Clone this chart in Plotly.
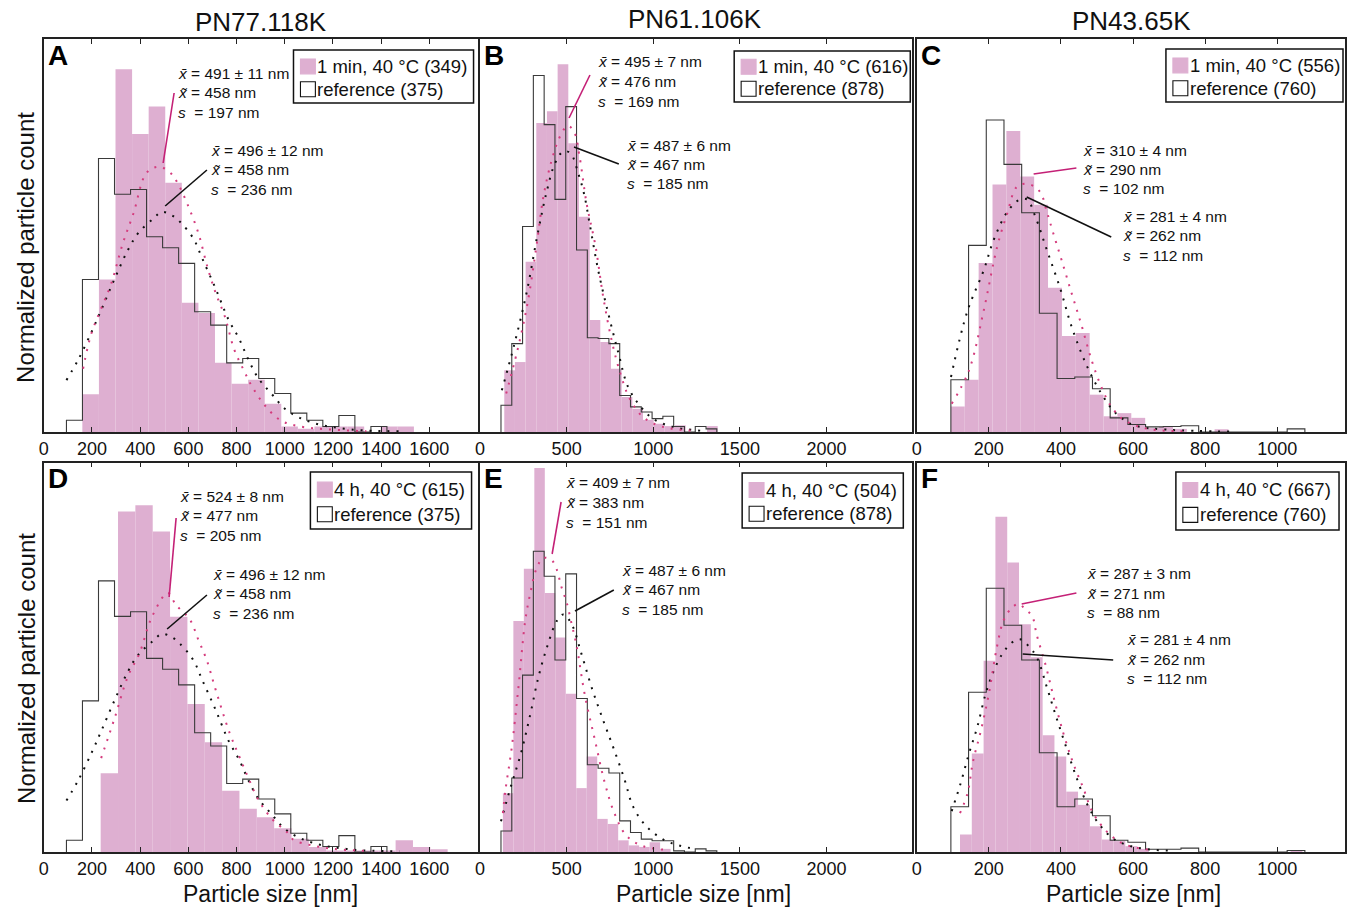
import plotly.graph_objects as go

# ---------------- data (normalized particle count, fraction of panel height) ----------------
col_titles = ["PN77.118K", "PN61.106K", "PN43.65K"]
panel_letters = ["A", "B", "C", "D", "E", "F"]

# Panel A  (PN77.118K, 1 min)
A_pink_start, A_pink_width = 160, 68.8
A_pink = [0.096, 0.388, 0.923, 0.758, 0.828, 0.634, 0.329, 0.303, 0.176, 0.123,
          0.133, 0.072, 0.014, 0.008, 0.014, 0.014, 0.014, 0.0, 0.014, 0.014]
A_ref_start, A_ref_width = 94, 66.5
A_ref = [0.030, 0.388, 0.696, 0.605, 0.617, 0.497, 0.469, 0.429, 0.306, 0.272,
         0.176, 0.187, 0.136, 0.098, 0.048, 0.030, 0.014, 0.042, 0.0, 0.014]
A_fit_x = [163, 197, 238, 280, 328, 372, 427, 479, 528, 555, 594, 642, 679, 713, 752, 789, 830, 865, 917, 982, 1064, 1339]
A_fit_y = [0.161, 0.250, 0.314, 0.378, 0.480, 0.556, 0.660, 0.675, 0.658, 0.634, 0.583, 0.505, 0.420, 0.354,
           0.293, 0.212, 0.157, 0.115, 0.068, 0.030, 0.014, 0.002]
A_ref_fit_x = [94, 142, 200, 238, 294, 349, 393, 455, 490, 530, 565, 621, 658, 713, 768, 810, 847, 889, 944, 1009, 1119, 1284, 1477]
A_ref_fit_y = [0.132, 0.183, 0.257, 0.310, 0.390, 0.463, 0.507, 0.543, 0.560, 0.552, 0.535, 0.492, 0.441, 0.365,
               0.284, 0.238, 0.187, 0.138, 0.098, 0.055, 0.023, 0.006, 0.002]

# Panel B  (PN61.106K, 1 min)
B_pink_start, B_pink_width = 140, 61.6
B_pink = [0.157, 0.178, 0.433, 0.786, 0.816, 0.936, 0.735, 0.548, 0.285, 0.229,
          0.161, 0.089, 0.059, 0.031, 0.021, 0.015, 0.017, 0.0, 0.0, 0.015]
B_ref_start, B_ref_width = 121, 62.3
B_ref = [0.068, 0.225, 0.523, 0.907, 0.782, 0.592, 0.828, 0.463, 0.240, 0.238,
         0.225, 0.093, 0.064, 0.051, 0.034, 0.040, 0.014, 0.0, 0.014, 0.008]
B_fit_x = [151, 216, 274, 328, 366, 414, 462, 506, 542, 573, 615, 667, 711, 762, 810, 864, 941, 1056, 1247]
B_fit_y = [0.098, 0.208, 0.327, 0.480, 0.599, 0.692, 0.752, 0.779, 0.765, 0.705, 0.582, 0.472, 0.344,
           0.229, 0.149, 0.085, 0.038, 0.013, 0.003]
B_ref_fit_x = [126, 198, 270, 334, 385, 433, 481, 523, 567, 600, 634, 682, 740, 797, 854, 921, 998, 1113, 1285]
B_ref_fit_y = [0.106, 0.223, 0.357, 0.507, 0.612, 0.684, 0.714, 0.709, 0.658, 0.607, 0.527, 0.412, 0.302,
               0.204, 0.115, 0.068, 0.034, 0.013, 0.003]

# Panel C  (PN43.65K, 1 min)
C_pink_start, C_pink_width = 94.7, 38.5
C_pink = [0.065, 0.133, 0.430, 0.630, 0.766, 0.650, 0.578, 0.367, 0.244, 0.252,
          0.095, 0.040, 0.048, 0.036, 0.010, 0.013, 0.008, 0.0, 0.0, 0.007]
C_ref_start, C_ref_width = 94.7, 49.1
C_ref = [0.133, 0.475, 0.794, 0.681, 0.558, 0.302, 0.136, 0.140, 0.110, 0.036,
         0.019, 0.013, 0.014, 0.016, 0.0, 0.0, 0.0, 0.0, 0.0, 0.008]
C_fit_x = [97, 145, 186, 223, 251, 278, 310, 342, 361, 379, 402, 430, 457, 485, 512, 540, 576, 641, 751]
C_fit_y = [0.072, 0.157, 0.310, 0.471, 0.556, 0.624, 0.631, 0.611, 0.560, 0.505, 0.437, 0.352, 0.272,
           0.183, 0.115, 0.064, 0.030, 0.008, 0.002]
C_ref_fit_x = [95, 140, 186, 214, 251, 283, 306, 329, 361, 398, 430, 471, 512, 553, 604, 696, 879]
C_ref_fit_y = [0.140, 0.306, 0.412, 0.490, 0.560, 0.590, 0.592, 0.548, 0.463, 0.365, 0.267, 0.170,
               0.098, 0.047, 0.017, 0.006, 0.001]

# Panel D  (PN77.118K, 4 h) -- reference identical to panel A
D_pink_start, D_pink_width = 236, 72
D_pink = [0.202, 0.874, 0.890, 0.823, 0.604, 0.380, 0.282, 0.157, 0.111, 0.089,
          0.061, 0.034, 0.013, 0.004, 0.003, 0.003, 0.004, 0.030, 0.013, 0.007]
D_fit_x = [238, 293, 349, 397, 449, 514, 548, 606, 642, 676, 713, 771, 810, 851, 892, 947, 1009, 1037, 1105, 1202, 1339]
D_fit_y = [0.241, 0.342, 0.451, 0.510, 0.604, 0.665, 0.635, 0.597, 0.544, 0.493, 0.417, 0.306, 0.247,
           0.187, 0.132, 0.085, 0.051, 0.031, 0.018, 0.008, 0.003]

# Panel E  (PN61.106K, 4 h)
E_pink_start, E_pink_width = 132, 60.5
E_pink = [0.151, 0.593, 0.727, 0.986, 0.665, 0.551, 0.406, 0.164, 0.245, 0.085,
          0.072, 0.030, 0.017, 0.013, 0.025, 0.008]
E_ref_start, E_ref_width = 121, 62.3
E_ref = [0.054, 0.190, 0.454, 0.772, 0.708, 0.493, 0.714, 0.394, 0.224, 0.215,
         0.203, 0.080, 0.050, 0.033, 0.029, 0.029, 0.003, 0.0, 0.008, 0.003]
E_fit_x = [132, 146, 184, 222, 261, 289, 328, 366, 414, 442, 471, 500, 529, 557, 605, 663, 720, 778, 845, 941, 1094]
E_fit_y = [0.100, 0.156, 0.271, 0.424, 0.594, 0.662, 0.730, 0.755, 0.749, 0.726, 0.679, 0.641, 0.585,
           0.530, 0.403, 0.288, 0.178, 0.097, 0.042, 0.015, 0.005]
E_ref_fit_x = [121, 175, 236, 289, 337, 389, 443, 481, 529, 586, 644, 711, 768, 835, 883, 960, 1075, 1247]
E_ref_fit_y = [0.079, 0.164, 0.253, 0.351, 0.449, 0.529, 0.593, 0.610, 0.585, 0.508, 0.423, 0.338,
               0.270, 0.185, 0.117, 0.066, 0.028, 0.007]

# Panel F  (PN43.65K, 4 h)
F_pink_start, F_pink_width = 120, 32.75
F_pink = [0.045, 0.253, 0.491, 0.861, 0.743, 0.585, 0.500, 0.300, 0.245, 0.155,
          0.121, 0.066, 0.032, 0.028, 0.015, 0.008, 0, 0, 0, 0, 0, 0, 0, 0, 0, 0, 0, 0, 0.005]
F_ref_start, F_ref_width = 94.7, 49.1
F_ref = [0.116, 0.410, 0.677, 0.582, 0.493, 0.255, 0.116, 0.136, 0.093, 0.030,
         0.025, 0.007, 0.007, 0.010, 0.0, 0.0, 0.0, 0.0, 0.0, 0.004]
F_fit_x = [120, 141, 156, 177, 200, 223, 241, 264, 283, 301, 320, 333, 358, 382, 407, 434, 462, 489, 531, 576, 650]
F_fit_y = [0.100, 0.151, 0.232, 0.308, 0.406, 0.529, 0.595, 0.627, 0.637, 0.623, 0.606, 0.557, 0.478,
           0.389, 0.304, 0.228, 0.164, 0.100, 0.049, 0.020, 0.005]
F_ref_fit_x = [97, 122, 145, 168, 191, 214, 237, 264, 287, 310, 333, 361, 384, 411, 439, 471, 503, 549, 613, 714]
F_ref_fit_y = [0.105, 0.177, 0.253, 0.321, 0.406, 0.466, 0.508, 0.538, 0.546, 0.529, 0.500, 0.423,
               0.355, 0.279, 0.202, 0.126, 0.075, 0.032, 0.011, 0.003]

# legend labels
legend_sample = ["1 min, 40 °C (349)", "1 min, 40 °C (616)", "1 min, 40 °C (556)",
                 "4 h, 40 °C (615)", "4 h, 40 °C (504)", "4 h, 40 °C (667)"]
legend_ref = ["reference (375)", "reference (878)", "reference (760)",
              "reference (375)", "reference (878)", "reference (760)"]

# statistics text blocks (sample, reference)
stats_sample = [("491 ± 11", "458", "197"), ("495 ± 7", "476", "169"), ("310 ± 4", "290", "102"),
                ("524 ± 8", "477", "205"), ("409 ± 7", "383", "151"), ("287 ± 3", "271", "88")]
stats_ref = [("496 ± 12", "458", "236"), ("487 ± 6", "467", "185"), ("281 ± 4", "262", "112"),
             ("496 ± 12", "458", "236"), ("487 ± 6", "467", "185"), ("281 ± 4", "262", "112")]

x_ticks = [[0, 200, 400, 600, 800, 1000, 1200, 1400, 1600],
           [0, 500, 1000, 1500, 2000],
           [0, 200, 400, 600, 800, 1000]]
x_ranges = [[0, 1800], [0, 2495], [0, 1188]]

# ---------------- style / layout constants ----------------
W, H = 1347, 909
PINK = "rgb(222,175,209)"
PINK_DOT = "rgb(212,60,125)"
PINK_LINE = "rgb(196,32,118)"
FONT = "Liberation Sans, Arial, sans-serif"

col_px = [(39, 475), (477.5, 912), (916.5, 1347)]
row_px = [(39, 432), (462.5, 852)]


def P(x, y):
    return x / W, 1 - y / H


panels = [
    dict(pink=(A_pink_start, A_pink_width, A_pink), ref=(A_ref_start, A_ref_width, A_ref),
         fit=(A_fit_x, A_fit_y), rfit=(A_ref_fit_x, A_ref_fit_y)),
    dict(pink=(B_pink_start, B_pink_width, B_pink), ref=(B_ref_start, B_ref_width, B_ref),
         fit=(B_fit_x, B_fit_y), rfit=(B_ref_fit_x, B_ref_fit_y)),
    dict(pink=(C_pink_start, C_pink_width, C_pink), ref=(C_ref_start, C_ref_width, C_ref),
         fit=(C_fit_x, C_fit_y), rfit=(C_ref_fit_x, C_ref_fit_y)),
    dict(pink=(D_pink_start, D_pink_width, D_pink), ref=(A_ref_start, A_ref_width, A_ref),
         fit=(D_fit_x, D_fit_y), rfit=(A_ref_fit_x, A_ref_fit_y)),
    dict(pink=(E_pink_start, E_pink_width, E_pink), ref=(E_ref_start, E_ref_width, E_ref),
         fit=(E_fit_x, E_fit_y), rfit=(E_ref_fit_x, E_ref_fit_y)),
    dict(pink=(F_pink_start, F_pink_width, F_pink), ref=(F_ref_start, F_ref_width, F_ref),
         fit=(F_fit_x, F_fit_y), rfit=(F_ref_fit_x, F_ref_fit_y)),
]

# annotation geometry in page pixels: (block1 left, rows), pink line, (block2 left, rows), black line
ann_geom = [
    ((173, [73, 92.5, 112]), ((170, 93), (159, 163)), (206, [151, 170, 190]), ((203, 170), (161, 206))),
    ((595, [62, 81.5, 101]), ((588, 75), (567, 118)), (624, [146, 165, 184]), ((617, 164), (572, 147))),
    ((1083, [150, 169.5, 189]), ((1034, 174), (1077, 168)), (1123, [217, 236, 256]), ((1027, 197), (1112, 237))),
    ((175, [496, 515.5, 535]), ((172, 518), (165, 597)), (208, [574, 593.5, 613]), ((203, 595), (163, 629))),
    ((563, [482, 502, 522]), ((559, 502), (550, 554)), (619, [570, 589.5, 609]), ((612, 590), (573, 611))),
    ((1087, [573, 593, 612.5]), ((1022, 604), (1077, 593)), (1127, [639, 659, 678.5]), ((1023, 654), (1114, 660))),
]
legend_box = [(290, 50, 471, 103), (733, 51, 910, 102), (1167, 49, 1345, 102),
              (307, 472, 469, 529), (741, 473, 903, 528), (1177, 472, 1341, 530)]

fig = go.Figure()
shapes, annotations = [], []

for i, pdat in enumerate(panels):
    r, c = divmod(i, 3)
    xa = "x" if i == 0 else f"x{i+1}"
    ya = "y" if i == 0 else f"y{i+1}"
    s0, w0, hp = pdat["pink"]
    centers = [s0 + w0 * (k + 0.5) for k in range(len(hp))]
    fig.add_trace(go.Bar(x=centers, y=hp, width=w0, marker=dict(color=PINK, line=dict(width=0)),
                         name=legend_sample[i], xaxis=xa, yaxis=ya, showlegend=False))
    s1, w1, hr = pdat["ref"]
    xs = [s1] + [s1 + w1 * k for k in range(len(hr))] + [s1 + w1 * len(hr)]
    ys = [0] + list(hr) + [0]
    fig.add_trace(go.Scatter(x=xs, y=ys, mode="lines", line=dict(color="#3a3a3a", width=1.1, shape="hv"),
                             name=legend_ref[i], xaxis=xa, yaxis=ya, showlegend=False))
    fx, fy = pdat["rfit"]
    fig.add_trace(go.Scatter(x=fx, y=fy, mode="lines",
                             line=dict(color="#111", width=2, dash="2px,7px", shape="spline"),
                             xaxis=xa, yaxis=ya, showlegend=False))
    fx, fy = pdat["fit"]
    fig.add_trace(go.Scatter(x=fx, y=fy, mode="lines",
                             line=dict(color=PINK_DOT, width=2, dash="2px,7px", shape="spline"),
                             xaxis=xa, yaxis=ya, showlegend=False))

    x0p, x1p = col_px[c]
    y0p, y1p = row_px[r]
    axis_x = dict(domain=[x0p / W, x1p / W], anchor=ya, range=x_ranges[c], tickvals=x_ticks[c],
                  ticks="inside", ticklen=5, tickcolor="#222", showline=True, linecolor="#222",
                  linewidth=1.5, mirror="ticks", showgrid=False, zeroline=False,
                  tickfont=dict(family=FONT, size=18, color="#111"))
    axis_y = dict(domain=[1 - y1p / H, 1 - y0p / H], anchor=xa, range=[0, 1], showticklabels=False,
                  ticks="", showline=True, linecolor="#222", linewidth=1.5, mirror=True,
                  showgrid=False, zeroline=False)
    fig.layout["xaxis" if i == 0 else f"xaxis{i+1}"] = axis_x
    fig.layout["yaxis" if i == 0 else f"yaxis{i+1}"] = axis_y

    # panel letter
    lx, ly = P(x0p + 2, y0p + 16)
    annotations.append(dict(x=lx, y=ly, xref="paper", yref="paper", text=f"<b>{panel_letters[i]}</b>",
                            showarrow=False, xanchor="left", yanchor="middle",
                            font=dict(family=FONT, size=28, color="#000")))

    # statistics blocks
    (b1x, b1rows), pl, (b2x, b2rows), bl = ann_geom[i]
    for (bx, rows, st) in ((b1x, b1rows, stats_sample[i]), (b2x, b2rows, stats_ref[i])):
        texts = [f"<i>x̄</i> = {st[0]} nm", f"<i>x̃</i> = {st[1]} nm", f"<i>s</i>  = {st[2]} nm"]
        for t, ry in zip(texts, rows):
            ax_, ay_ = P(bx - 1, ry)
            annotations.append(dict(x=ax_, y=ay_, xref="paper", yref="paper", text=t, showarrow=False,
                                    xanchor="left", yanchor="middle",
                                    font=dict(family=FONT, size=15.5, color="#111")))
    for (pa, pb), colr in ((pl, PINK_LINE), (bl, "#111")):
        xa0, ya0 = P(*pa)
        xb0, yb0 = P(*pb)
        shapes.append(dict(type="line", xref="paper", yref="paper", x0=xa0, y0=ya0, x1=xb0, y1=yb0,
                           line=dict(color=colr, width=1.6)))

    # manual legend
    L, T, R, B = legend_box[i]
    bx0, by0 = P(L, B)
    bx1, by1 = P(R, T)
    shapes.append(dict(type="rect", xref="paper", yref="paper", x0=bx0, y0=by0, x1=bx1, y1=by1,
                       fillcolor="white", line=dict(color="#111", width=1.5), layer="above"))
    hh = B - T
    for k, (lab, fill, lc) in enumerate(((legend_sample[i], PINK, PINK), (legend_ref[i], "white", "#111"))):
        cy = T + hh * (0.31 if k == 0 else 0.74)
        sx0, sy0 = P(L + 7, cy + 7.5)
        sx1, sy1 = P(L + 22, cy - 7.5)
        shapes.append(dict(type="rect", xref="paper", yref="paper", x0=sx0, y0=sy0, x1=sx1, y1=sy1,
                           fillcolor=fill, line=dict(color=lc, width=1.1), layer="above"))
        tx, ty = P(L + 22, cy)
        annotations.append(dict(x=tx, y=ty, xref="paper", yref="paper", text=lab, showarrow=False,
                                xanchor="left", yanchor="middle",
                                font=dict(family=FONT, size=18.5, color="#111")))

# column titles
for c, (t, cx, cy) in enumerate(zip(col_titles, [257, 694, 1132], [22, 19, 21])):
    x, y = P(cx, cy)
    annotations.append(dict(x=x, y=y, xref="paper", yref="paper", text=t, showarrow=False,
                            xanchor="center", yanchor="middle", font=dict(family=FONT, size=26, color="#111")))
# x-axis titles
for cx in [267, 702, 1134]:
    x, y = P(cx, 894)
    annotations.append(dict(x=x, y=y, xref="paper", yref="paper", text="Particle size [nm]", showarrow=False,
                            xanchor="center", yanchor="middle", borderpad=0,
                            font=dict(family=FONT, size=23, color="#111")))
# y-axis titles
for cy in [247, 668]:
    x, y = P(21, cy)
    annotations.append(dict(x=x, y=y, xref="paper", yref="paper", text="Normalized particle count",
                            showarrow=False, textangle=-90, xanchor="center", yanchor="middle",
                            font=dict(family=FONT, size=24, color="#111")))

fig.update_layout(width=W, height=H, margin=dict(l=0, r=0, t=0, b=0), paper_bgcolor="white",
                  plot_bgcolor="white", barmode="overlay", showlegend=False,
                  shapes=shapes, annotations=annotations)

fig.write_html("out.html", config={"displayModeBar": False})
